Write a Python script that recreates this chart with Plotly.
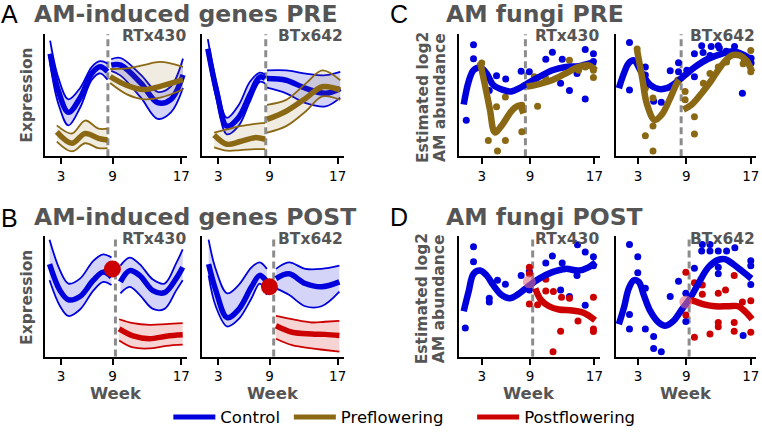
import plotly.graph_objects as go

W, H = 762, 435
BLUE = "#0000dd"
BROWN = "#8b6914"
RED = "#cc0000"
GREY = "#555555"
FONT = "DejaVu Sans"

BLUE_FILL = "rgba(0,0,221,0.17)"
BROWN_FILL = "rgba(139,105,20,0.13)"
RED_FILL = "rgba(204,0,0,0.17)"

WEEK_TICKS = [3, 9, 17]

# ── A: AM-induced genes PRE, RTx430 ────────────────────────────────
A_RTX_CTRL_PRE_WEEK = [1.72, 2.69, 3.85, 5.22, 6.58, 7.55, 8.4]
A_RTX_CTRL_PRE_HI = [9.47, 6.4, 4.67, 5.6, 7.33, 7.79, 7.6]
A_RTX_CTRL_PRE_MEAN = [8.4, 5.33, 3.6, 4.8, 6.8, 7.33, 6.93]
A_RTX_CTRL_PRE_LO = [7.6, 4.27, 2.53, 4.0, 6.27, 6.8, 6.27]
A_RTX_CTRL_POST_WEEK = [8.84, 9.94, 12.3, 14.25, 15.8, 17.2]
A_RTX_CTRL_POST_HI = [7.95, 8.05, 6.67, 5.28, 5.73, 8.0]
A_RTX_CTRL_POST_MEAN = [7.47, 7.47, 5.99, 4.4, 4.67, 6.67]
A_RTX_CTRL_POST_LO = [7.0, 6.61, 4.8, 3.07, 3.6, 5.6]
A_RTX_PRE_PRE_WEEK = [2.5, 4.25, 5.8, 7.35, 8.4]
A_RTX_PRE_PRE_HI = [2.53, 1.87, 2.93, 2.27, 2.27]
A_RTX_PRE_PRE_MEAN = [2.0, 1.07, 1.87, 1.47, 1.33]
A_RTX_PRE_PRE_LO = [1.2, 0.4, 1.07, 0.67, 0.67]
A_RTX_PRE_POST_WEEK = [8.72, 10.67, 12.6, 14.55, 17.2]
A_RTX_PRE_POST_HI = [7.15, 7.2, 7.47, 7.73, 7.33]
A_RTX_PRE_POST_MEAN = [6.53, 5.81, 5.47, 5.73, 6.27]
A_RTX_PRE_POST_LO = [6.0, 5.07, 4.67, 4.8, 5.47]

# ── A: AM-induced genes PRE, BTx642 ────────────────────────────────
A_BTX_CTRL_PRE_WEEK = [1.76, 2.85, 4.0, 5.35, 6.7, 7.86, 8.48]
A_BTX_CTRL_PRE_HI = [9.6, 5.78, 3.15, 4.16, 6.1, 6.85, 6.69]
A_BTX_CTRL_PRE_MEAN = [8.8, 5.16, 2.47, 3.15, 5.03, 6.5, 6.37]
A_BTX_CTRL_PRE_LO = [8.25, 4.49, 1.8, 2.47, 4.49, 6.1, 5.97]
A_BTX_CTRL_POST_WEEK = [8.71, 10.95, 13.27, 15.58, 17.3]
A_BTX_CTRL_POST_HI = [7.04, 7.04, 6.77, 6.64, 6.91]
A_BTX_CTRL_POST_MEAN = [6.37, 6.23, 5.56, 5.16, 5.56]
A_BTX_CTRL_POST_LO = [5.62, 5.16, 4.35, 4.09, 4.81]
A_BTX_PRE_PRE_WEEK = [2.5, 4.0, 5.55, 7.28, 8.48]
A_BTX_PRE_PRE_HI = [1.94, 2.2, 2.47, 2.66, 2.74]
A_BTX_PRE_PRE_MEAN = [1.75, 0.99, 1.21, 1.53, 1.4]
A_BTX_PRE_PRE_LO = [0.73, 0.46, 0.51, 0.59, 0.59]
A_BTX_PRE_POST_WEEK = [8.71, 10.95, 13.27, 15.2, 17.3]
A_BTX_PRE_POST_HI = [4.22, 4.62, 5.97, 7.04, 6.23]
A_BTX_PRE_POST_MEAN = [3.02, 3.69, 4.76, 5.7, 5.43]
A_BTX_PRE_POST_LO = [1.94, 2.47, 3.69, 4.9, 4.62]

# ── B: AM-induced genes POST, RTx430 ───────────────────────────────
B_RTX_CTRL_PRE_WEEK = [1.65, 2.88, 3.85, 5.2, 6.75, 7.9, 8.87]
B_RTX_CTRL_PRE_HI = [9.73, 7.16, 6.08, 6.49, 7.97, 8.51, 8.24]
B_RTX_CTRL_PRE_MEAN = [7.7, 5.49, 4.73, 5.0, 6.35, 7.03, 6.62]
B_RTX_CTRL_PRE_LO = [6.35, 4.19, 3.38, 3.92, 5.49, 6.22, 5.95]
B_RTX_CTRL_POST_WEEK = [9.91, 10.99, 12.15, 13.7, 15.05, 16.4, 17.17]
B_RTX_CTRL_POST_HI = [7.57, 8.24, 7.7, 6.41, 6.08, 7.76, 8.92]
B_RTX_CTRL_POST_MEAN = [6.22, 7.16, 6.76, 5.49, 5.32, 6.49, 7.43]
B_RTX_CTRL_POST_LO = [5.27, 5.81, 5.14, 3.97, 3.97, 5.49, 6.35]
B_RTX_POST_WEEK = [9.76, 11.38, 13.31, 15.24, 17.17]
B_RTX_POST_HI = [3.11, 2.78, 2.64, 2.7, 2.78]
B_RTX_POST_MEAN = [2.3, 1.72, 1.49, 1.7, 1.81]
B_RTX_POST_LO = [1.35, 0.76, 0.68, 0.9, 1.0]

# ── B: AM-induced genes POST, BTx642 ───────────────────────────────
B_BTX_CTRL_PRE_WEEK = [1.85, 2.69, 4.03, 5.37, 6.89, 7.85, 8.69]
B_BTX_CTRL_PRE_HI = [9.73, 7.27, 5.27, 5.95, 7.43, 7.84, 7.3]
B_BTX_CTRL_PRE_MEAN = [7.7, 5.54, 3.24, 3.92, 5.81, 6.76, 6.22]
B_BTX_CTRL_PRE_LO = [6.76, 4.19, 2.51, 3.11, 4.86, 6.08, 5.14]
B_BTX_CTRL_POST_WEEK = [9.76, 11.28, 13.19, 15.1, 17.2]
B_BTX_CTRL_POST_HI = [7.3, 7.84, 7.3, 7.3, 7.57]
B_BTX_CTRL_POST_MEAN = [6.49, 6.89, 6.08, 5.81, 6.22]
B_BTX_CTRL_POST_LO = [5.68, 5.14, 4.19, 4.19, 5.41]
B_BTX_POST_WEEK = [9.76, 11.66, 13.95, 15.5, 17.2]
B_BTX_POST_HI = [3.38, 3.11, 2.84, 2.9, 2.97]
B_BTX_POST_MEAN = [2.57, 2.03, 1.89, 1.85, 1.76]
B_BTX_POST_LO = [1.49, 0.95, 0.68, 0.55, 0.41]

# flowering point (big red dot) in B, faint dot in D
B_SWITCH_WEEK = [8.98, 8.99]
B_SWITCH_VALUE = [7.3, 5.81]
D_SWITCH_WEEK = [8.92, 8.93]
D_SWITCH_VALUE = [6.22, 4.54]

# ── C: AM fungi PRE, RTx430 ────────────────────────────────────────
C_RTX_CTRL_WEEK = [0.76, 1.37, 1.98, 2.8, 3.61, 4.43, 5.65, 6.67, 7.69, 8.71, 10.14, 11.78, 13.41, 15.04, 16.27, 17.16]
C_RTX_CTRL_FIT = [4.24, 6.11, 7.05, 7.27, 6.78, 5.84, 5.44, 5.31, 5.58, 5.98, 6.51, 7.05, 7.32, 7.37, 7.59, 7.72]
C_RTX_PRE_WEEK = [2.8, 3.61, 4.02, 4.63, 5.45, 6.47, 7.08, 7.69, 8.18]
C_RTX_PRE_FIT = [7.72, 5.17, 3.83, 1.96, 2.49, 3.51, 3.97, 4.16, 3.51]
C_RTX_POST_WEEK = [8.59, 10.14, 11.78, 13.41, 15.04, 16.27, 17.16]
C_RTX_POST_FIT = [5.71, 5.92, 6.25, 6.78, 7.32, 7.45, 7.05]
C_RTX_CTRL_DOT_WEEK = [1.08, 1.98, 1.98, 3.94, 4.84, 5.98, 7.9, 8.92, 10.96, 11.78, 13.0, 12.8, 13.9, 14.84, 15.86, 15.86, 16.88, 16.88]
C_RTX_CTRL_DOT = [2.95, 9.14, 7.99, 5.39, 6.6, 6.33, 6.97, 6.92, 7.94, 8.53, 7.94, 5.98, 5.39, 6.78, 8.74, 4.69, 8.39, 7.77]
C_RTX_PRE_DOT_WEEK = [3.0, 4.84, 5.94, 3.82, 5.94, 4.96, 7.98, 7.98, 9.94, 9.53, 10.96, 13.9, 15.04, 16.88, 16.88, 15.86]
C_RTX_PRE_DOT = [7.64, 4.05, 4.85, 1.29, 1.29, 0.43, 4.18, 2.01, 4.1, 6.51, 6.38, 7.86, 7.05, 7.05, 6.46, 7.32]

# ── C: AM fungi PRE, BTx642 ────────────────────────────────────────
C_BTX_CTRL_WEEK = [0.61, 1.23, 1.85, 2.47, 3.49, 4.52, 5.55, 6.58, 7.61, 8.84, 10.08, 11.72, 13.37, 14.81, 16.25, 17.16]
C_BTX_CTRL_FIT = [5.58, 6.78, 7.64, 7.86, 6.78, 5.84, 5.52, 5.58, 5.98, 6.65, 7.32, 7.99, 8.39, 8.61, 8.26, 7.86]
C_BTX_PRE_WEEK = [2.88, 3.49, 4.11, 5.06, 5.96, 6.99, 7.81, 8.1]
C_BTX_PRE_FIT = [8.66, 6.51, 4.24, 2.98, 3.43, 4.77, 5.98, 6.25]
C_BTX_POST_WEEK = [8.64, 9.67, 10.9, 12.14, 13.37, 14.6, 15.63, 16.46, 17.16]
C_BTX_POST_FIT = [3.83, 4.24, 5.17, 6.25, 7.45, 8.26, 8.26, 7.86, 6.92]
C_BTX_CTRL_DOT_WEEK = [1.93, 1.93, 3.9, 3.9, 4.93, 5.88, 6.99, 8.02, 8.02, 9.05, 10.0, 10.0, 10.9, 11.07, 11.93, 12.08, 12.96, 13.1, 13.95, 14.98, 15.96, 16.25, 17.04, 17.04]
C_BTX_CTRL_DOT = [9.33, 5.44, 7.32, 6.65, 4.5, 4.42, 7.0, 7.67, 6.92, 7.05, 6.51, 8.4, 9.06, 8.5, 8.26, 9.0, 9.06, 8.87, 8.6, 9.0, 5.17, 7.86, 8.04, 7.64]
C_BTX_PRE_DOT_WEEK = [2.88, 3.9, 4.85, 3.9, 4.85, 4.85, 7.94, 8.84, 8.84, 10.0, 10.0, 11.11, 11.93, 12.96, 13.99, 15.02, 16.05, 17.0, 17.0]
C_BTX_PRE_DOT = [8.79, 5.58, 4.77, 1.69, 2.49, 0.43, 6.25, 5.31, 4.64, 3.24, 1.82, 5.98, 6.78, 7.32, 7.72, 8.39, 7.59, 8.66, 6.92]

# ── D: AM fungi POST, RTx430 ───────────────────────────────────────
D_RTX_CTRL_WEEK = [0.76, 1.37, 1.98, 2.8, 3.61, 4.43, 5.45, 6.47, 7.69, 8.71, 10.14, 11.78, 13.41, 15.04, 16.27, 17.16]
D_RTX_CTRL_FIT = [3.78, 5.41, 6.89, 7.16, 6.76, 5.95, 5.14, 4.86, 5.27, 5.81, 6.49, 7.03, 7.3, 7.16, 7.43, 7.84]
D_RTX_POST_WEEK = [9.65, 10.35, 11.37, 12.59, 14.22, 15.65, 17.08]
D_RTX_POST_FIT = [5.68, 4.73, 4.19, 3.92, 3.84, 3.65, 3.03]
D_RTX_CTRL_DOT_WEEK = [0.96, 1.98, 1.98, 3.94, 3.94, 4.96, 5.94, 7.9, 8.92, 8.92, 10.96, 11.78, 13.0, 12.8, 13.9, 14.84, 15.86, 15.86, 16.88, 16.88, 14.9]
D_RTX_CTRL_DOT = [2.38, 9.14, 7.89, 4.86, 4.54, 6.35, 6.03, 6.76, 7.1, 5.54, 7.78, 8.38, 7.78, 5.54, 5.0, 6.76, 8.7, 4.27, 8.3, 7.57, 9.3]
D_RTX_POST_DOT_WEEK = [8.92, 8.92, 8.92, 10.96, 10.96, 11.9, 12.92, 13.9, 12.8, 11.86, 14.96, 16.88, 16.88, 16.88, 9.94]
D_RTX_POST_DOT = [7.43, 6.89, 4.38, 6.43, 5.46, 5.41, 4.95, 4.86, 2.11, 0.41, 2.97, 4.95, 2.3, 2.08, 4.32]

# ── D: AM fungi POST, BTx642 ───────────────────────────────────────
D_BTX_CTRL_WEEK = [0.61, 1.23, 1.85, 2.47, 3.08, 3.7, 4.52, 5.55, 6.37, 7.4, 8.43, 9.46, 10.49, 11.72, 12.96, 13.78, 14.81, 15.84, 17.07]
D_BTX_CTRL_FIT = [2.7, 4.05, 5.68, 6.35, 6.22, 5.14, 3.78, 2.84, 2.57, 2.97, 3.92, 4.86, 6.08, 7.43, 8.05, 8.11, 7.7, 7.16, 6.49]
D_BTX_POST_WEEK = [9.46, 10.08, 11.31, 12.55, 14.19, 15.43, 16.25, 17.16]
D_BTX_POST_FIT = [4.73, 4.59, 4.32, 4.19, 4.19, 4.19, 3.78, 3.11]
D_BTX_CTRL_DOT_WEEK = [1.93, 2.96, 2.96, 3.9, 1.93, 1.93, 3.9, 4.93, 4.93, 5.88, 6.99, 8.02, 8.93, 8.93, 10.0, 10.9, 10.98, 11.93, 11.93, 12.96, 12.96, 12.96, 13.99, 15.02, 16.05, 17.0, 17.0, 17.0]
D_BTX_CTRL_DOT = [9.32, 8.3, 6.97, 5.68, 3.51, 2.3, 2.3, 1.68, 0.68, 0.41, 5.0, 6.27, 5.27, 2.92, 7.35, 8.78, 9.32, 9.32, 8.78, 8.78, 7.43, 6.89, 8.78, 9.05, 1.76, 7.97, 7.57, 6.0]
D_BTX_POST_DOT_WEEK = [8.93, 10.0, 10.0, 10.98, 10.98, 11.93, 12.96, 13.86, 12.96, 12.96, 14.94, 14.94, 14.94, 15.96, 17.0, 17.0, 8.93]
D_BTX_POST_DOT = [7.03, 6.14, 1.62, 5.95, 5.19, 1.89, 5.27, 5.54, 2.84, 2.49, 6.76, 2.84, 2.11, 4.54, 4.65, 2.03, 3.46]

# flowering switch (dashed line), panel order: A-l, A-r, C-l, C-r, B-l, B-r, D-l, D-r
SWITCH_WEEK = [8.45, 8.56, 8.43, 8.35, 9.33, 9.49, 9.33, 9.34]
CULTIVARS = ["RTx430", "BTx642", "RTx430", "BTx642", "RTx430", "BTx642", "RTx430", "BTx642"]

# panel boxes in pixels: left, right, top, bottom
BOXES = [(45, 188, 35, 160), (203, 345, 35, 160), (461, 602, 35, 160), (618, 759, 35, 160),
         (45, 188, 242, 365), (203, 345, 242, 365), (461, 602, 242, 365), (618, 759, 242, 365)]
XRANGES = [[1.1, 17.7]] * 2 + [[0.2, 17.65]] * 2 + [[1.1, 17.7]] * 2 + [[0.2, 17.65]] * 2


def px(x):
    return x / W


def py(y):
    return 1 - y / H


def axes(n):
    return dict(xaxis="x" if n == 1 else f"x{n}", yaxis="y" if n == 1 else f"y{n}")


def band(fig, n, week, hi, mean, lo, color, fill):
    thin = dict(color=color, width=1.8, shape="spline")
    fig.add_trace(go.Scatter(x=week, y=hi, mode="lines", line=thin, showlegend=False,
                             hoverinfo="skip", **axes(n)))
    fig.add_trace(go.Scatter(x=week, y=lo, mode="lines", line=thin, fill="tonexty",
                             fillcolor=fill, showlegend=False, hoverinfo="skip", **axes(n)))
    fig.add_trace(go.Scatter(x=week, y=mean, mode="lines", showlegend=False, hoverinfo="skip",
                             line=dict(color=color, width=5.5, shape="spline"), **axes(n)))


def fit(fig, n, week, y, color):
    fig.add_trace(go.Scatter(x=week, y=y, mode="lines", showlegend=False, hoverinfo="skip",
                             line=dict(color=color, width=6.5, shape="spline"), **axes(n)))


def dots(fig, n, week, y, color):
    fig.add_trace(go.Scatter(x=week, y=y, mode="markers", showlegend=False, hoverinfo="skip",
                             marker=dict(color=color, size=7, line_width=0), **axes(n)))


fig = go.Figure()

# A
band(fig, 1, A_RTX_CTRL_PRE_WEEK, A_RTX_CTRL_PRE_HI, A_RTX_CTRL_PRE_MEAN, A_RTX_CTRL_PRE_LO, BLUE, BLUE_FILL)
band(fig, 1, A_RTX_CTRL_POST_WEEK, A_RTX_CTRL_POST_HI, A_RTX_CTRL_POST_MEAN, A_RTX_CTRL_POST_LO, BLUE, BLUE_FILL)
band(fig, 1, A_RTX_PRE_PRE_WEEK, A_RTX_PRE_PRE_HI, A_RTX_PRE_PRE_MEAN, A_RTX_PRE_PRE_LO, BROWN, BROWN_FILL)
band(fig, 1, A_RTX_PRE_POST_WEEK, A_RTX_PRE_POST_HI, A_RTX_PRE_POST_MEAN, A_RTX_PRE_POST_LO, BROWN, BROWN_FILL)
band(fig, 2, A_BTX_CTRL_PRE_WEEK, A_BTX_CTRL_PRE_HI, A_BTX_CTRL_PRE_MEAN, A_BTX_CTRL_PRE_LO, BLUE, BLUE_FILL)
band(fig, 2, A_BTX_CTRL_POST_WEEK, A_BTX_CTRL_POST_HI, A_BTX_CTRL_POST_MEAN, A_BTX_CTRL_POST_LO, BLUE, BLUE_FILL)
band(fig, 2, A_BTX_PRE_PRE_WEEK, A_BTX_PRE_PRE_HI, A_BTX_PRE_PRE_MEAN, A_BTX_PRE_PRE_LO, BROWN, BROWN_FILL)
band(fig, 2, A_BTX_PRE_POST_WEEK, A_BTX_PRE_POST_HI, A_BTX_PRE_POST_MEAN, A_BTX_PRE_POST_LO, BROWN, BROWN_FILL)

# C
dots(fig, 3, C_RTX_CTRL_DOT_WEEK, C_RTX_CTRL_DOT, BLUE)
dots(fig, 3, C_RTX_PRE_DOT_WEEK, C_RTX_PRE_DOT, BROWN)
fit(fig, 3, C_RTX_CTRL_WEEK, C_RTX_CTRL_FIT, BLUE)
fit(fig, 3, C_RTX_PRE_WEEK, C_RTX_PRE_FIT, BROWN)
fit(fig, 3, C_RTX_POST_WEEK, C_RTX_POST_FIT, BROWN)
dots(fig, 4, C_BTX_CTRL_DOT_WEEK, C_BTX_CTRL_DOT, BLUE)
dots(fig, 4, C_BTX_PRE_DOT_WEEK, C_BTX_PRE_DOT, BROWN)
fit(fig, 4, C_BTX_CTRL_WEEK, C_BTX_CTRL_FIT, BLUE)
fit(fig, 4, C_BTX_PRE_WEEK, C_BTX_PRE_FIT, BROWN)
fit(fig, 4, C_BTX_POST_WEEK, C_BTX_POST_FIT, BROWN)

# B
band(fig, 5, B_RTX_CTRL_PRE_WEEK, B_RTX_CTRL_PRE_HI, B_RTX_CTRL_PRE_MEAN, B_RTX_CTRL_PRE_LO, BLUE, BLUE_FILL)
band(fig, 5, B_RTX_CTRL_POST_WEEK, B_RTX_CTRL_POST_HI, B_RTX_CTRL_POST_MEAN, B_RTX_CTRL_POST_LO, BLUE, BLUE_FILL)
band(fig, 5, B_RTX_POST_WEEK, B_RTX_POST_HI, B_RTX_POST_MEAN, B_RTX_POST_LO, RED, RED_FILL)
band(fig, 6, B_BTX_CTRL_PRE_WEEK, B_BTX_CTRL_PRE_HI, B_BTX_CTRL_PRE_MEAN, B_BTX_CTRL_PRE_LO, BLUE, BLUE_FILL)
band(fig, 6, B_BTX_CTRL_POST_WEEK, B_BTX_CTRL_POST_HI, B_BTX_CTRL_POST_MEAN, B_BTX_CTRL_POST_LO, BLUE, BLUE_FILL)
band(fig, 6, B_BTX_POST_WEEK, B_BTX_POST_HI, B_BTX_POST_MEAN, B_BTX_POST_LO, RED, RED_FILL)
for i, n in enumerate([5, 6]):
    fig.add_trace(go.Scatter(x=[B_SWITCH_WEEK[i]], y=[B_SWITCH_VALUE[i]], mode="markers",
                             marker=dict(color=RED, size=17, line_width=0),
                             showlegend=False, hoverinfo="skip", **axes(n)))

# D
dots(fig, 7, D_RTX_CTRL_DOT_WEEK, D_RTX_CTRL_DOT, BLUE)
dots(fig, 7, D_RTX_POST_DOT_WEEK, D_RTX_POST_DOT, RED)
fit(fig, 7, D_RTX_CTRL_WEEK, D_RTX_CTRL_FIT, BLUE)
fit(fig, 7, D_RTX_POST_WEEK, D_RTX_POST_FIT, RED)
dots(fig, 8, D_BTX_CTRL_DOT_WEEK, D_BTX_CTRL_DOT, BLUE)
dots(fig, 8, D_BTX_POST_DOT_WEEK, D_BTX_POST_DOT, RED)
fit(fig, 8, D_BTX_CTRL_WEEK, D_BTX_CTRL_FIT, BLUE)
fit(fig, 8, D_BTX_POST_WEEK, D_BTX_POST_FIT, RED)
for i, n in enumerate([7, 8]):
    fig.add_trace(go.Scatter(x=[D_SWITCH_WEEK[i]], y=[D_SWITCH_VALUE[i]], mode="markers",
                             marker=dict(color="rgba(225,110,130,0.6)", size=13, line_width=0),
                             showlegend=False, hoverinfo="skip", **axes(n)))

# legend entries, one legend each so they can sit where the original had them
LEGEND_NAMES = ["Control", "Preflowering", "Postflowering"]
LEGEND_COLORS = [BLUE, BROWN, RED]
LEGEND_X = [169, 290, 474]
for i, (name, color) in enumerate(zip(LEGEND_NAMES, LEGEND_COLORS)):
    fig.add_trace(go.Scatter(x=[None], y=[None], mode="lines", name=name,
                             line=dict(color=color, width=5),
                             legend="legend" if i == 0 else f"legend{i + 1}", **axes(1)))

layout = dict(
    width=W, height=H, margin=dict(l=0, r=0, t=0, b=0),
    paper_bgcolor="white", plot_bgcolor="white",
    font=dict(family=FONT, color="black"),
    showlegend=True,
)
for i, lx in enumerate(LEGEND_X):
    layout["legend" if i == 0 else f"legend{i + 1}"] = dict(
        x=px(lx), y=py(427), xanchor="left", yanchor="middle", orientation="h",
        bgcolor="rgba(0,0,0,0)", borderwidth=0, itemwidth=42,
        font=dict(family=FONT, size=16.5, color="black"),
    )

for k, (l, r, t, b) in enumerate(BOXES):
    n = k + 1
    sfx = "" if n == 1 else str(n)
    layout[f"xaxis{sfx}"] = dict(
        domain=[px(l), px(r)], range=XRANGES[k], anchor=f"y{sfx}",
        tickvals=WEEK_TICKS, ticks="outside", ticklen=6, tickwidth=2, tickcolor="black",
        showline=True, linewidth=2, linecolor="black", showgrid=False, zeroline=False,
        tickfont=dict(family=FONT, size=13.5, color="black"),
    )
    layout[f"yaxis{sfx}"] = dict(
        domain=[py(b), py(t)], range=[0, 10], anchor=f"x{sfx}",
        showline=True, linewidth=2, linecolor="black", showgrid=False, zeroline=False,
        showticklabels=False, ticks="",
    )
fig.update_layout(**layout)

for k in range(8):
    sfx = "" if k == 0 else str(k + 1)
    fig.add_shape(type="line", xref=f"x{sfx}", yref=f"y{sfx} domain",
                  x0=SWITCH_WEEK[k], x1=SWITCH_WEEK[k], y0=0, y1=1, layer="below",
                  line=dict(color="#8c8c8c", width=3, dash="7px,4px"))

ann = []


def text(x, y, s, size, bold=True, color=GREY, anchor="center", angle=0, family=FONT):
    if bold:
        s = f"<b>{s}</b>"
    ann.append(dict(x=px(x), y=py(y), xref="paper", yref="paper", text=s, showarrow=False,
                    xanchor=anchor, yanchor="middle", textangle=angle, borderpad=0,
                    font=dict(family=family, size=size, color=color)))


# panel letters and titles
for letter, lx, ly in [("A", 10, 14), ("B", 10, 223), ("C", 401, 14), ("D", 401, 222)]:
    text(lx, ly, letter, 25, bold=False, color="black", family="Liberation Sans")
text(33, 14, "AM-induced genes PRE", 23.5, anchor="left")
text(33, 222, "AM-induced genes POST", 23.5, anchor="left")
text(447, 14, "AM fungi PRE", 23.5, anchor="left")
text(447, 222, "AM fungi POST", 23.5, anchor="left")

# cultivar labels
for k, (l, r, t, b) in enumerate(BOXES):
    text(r, t + (1.5 if t < 100 else 2.5), CULTIVARS[k], 15.5, anchor="right")

# axis titles
for yc in (97, 304):
    text(27, yc, "Expression", 15.5, angle=-90)
for yc in (100, 306):
    text(424, yc, "Estimated log2", 15.5, angle=-90)
    text(441, yc, "AM abundance", 15.5, angle=-90)
for (l, r, t, b) in BOXES[4:]:
    text((l + r) / 2, 403, "Week", 16.5)

fig.update_layout(annotations=ann)
fig.write_html("out.html", config={"displayModeBar": False},
               post_script="document.body.style.margin='0px';")
